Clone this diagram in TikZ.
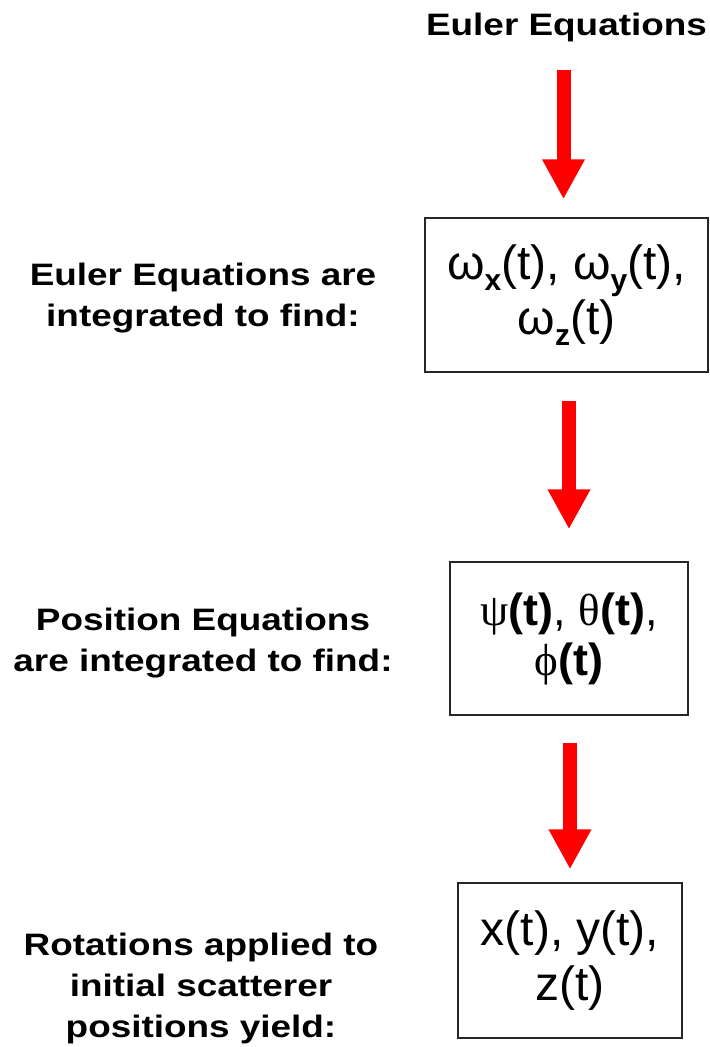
\documentclass[tikz,border=0pt]{standalone}
\usepackage{fontspec}
\setmainfont{Liberation Sans}
\newfontfamily\lblfont[FakeStretch=1.19]{Liberation Sans}
\newfontfamily\grkfont{Liberation Serif}
\usepackage{tikz}
\usetikzlibrary{arrows.meta}
\tikzset{
  lbl/.style ={align=center, inner sep=0pt,
               font=\lblfont\bfseries\fontsize{31bp}{41bp}\selectfont},
  res/.style ={rectangle, draw=black!85, line width=1.5bp, inner sep=0pt,
               align=center, font=\fontsize{48bp}{55bp}\selectfont},
  ar/.style  ={-{Triangle[length=40bp,width=40bp]}, line width=14bp, draw=red},
}
\newcommand{\lowsub}[1]{\raisebox{-11bp}{\fontsize{30bp}{30bp}\selectfont\bfseries #1}}

\begin{document}
\begin{tikzpicture}[x=1bp, y=1bp]
\useasboundingbox (0,0) rectangle (710,-1047);

\node[lbl] (title) at (566.5,-27) {Euler Equations};

\node[res, minimum width=283bp, minimum height=154bp] (omega) at (566.5,-295)
     {ω\lowsub{x}(t), ω\lowsub{y}(t),\\ω\lowsub{z}(t)};
\node[res, minimum width=238bp, minimum height=153bp,
      font=\fontsize{45bp}{50bp}\selectfont] (angles) at (569,-638.5)
     {{\grkfont ψ}\textbf{(t)}, {\grkfont θ}\textbf{(t)},\\{\grkfont ϕ}\textbf{(t)}};
\node[res, minimum width=224bp, minimum height=155bp] (coords) at (570,-960.5)
     {x(t), y(t),\\z(t)};

\node[lbl] (intw) at (203,-298) {Euler Equations are\\integrated to find:};
\node[lbl] (intp) at (203,-643.5) {Position Equations\\are integrated to find:};
\node[lbl] (rot) at (201,-988.5) {Rotations applied to\\initial scatterer\\positions yield:};

\draw[ar, shorten <=28.5bp, shorten >=18bp] ([xshift=-3bp]title.south)
     -- ([xshift=-3bp]title.south |- omega.north);
\draw[ar, shorten <=28bp, shorten >=32bp] (angles.north |- omega.south) -- (angles.north);
\draw[ar, shorten <=27bp, shorten >=13bp] (coords.north |- angles.south) -- (coords.north);
\end{tikzpicture}
\end{document}
